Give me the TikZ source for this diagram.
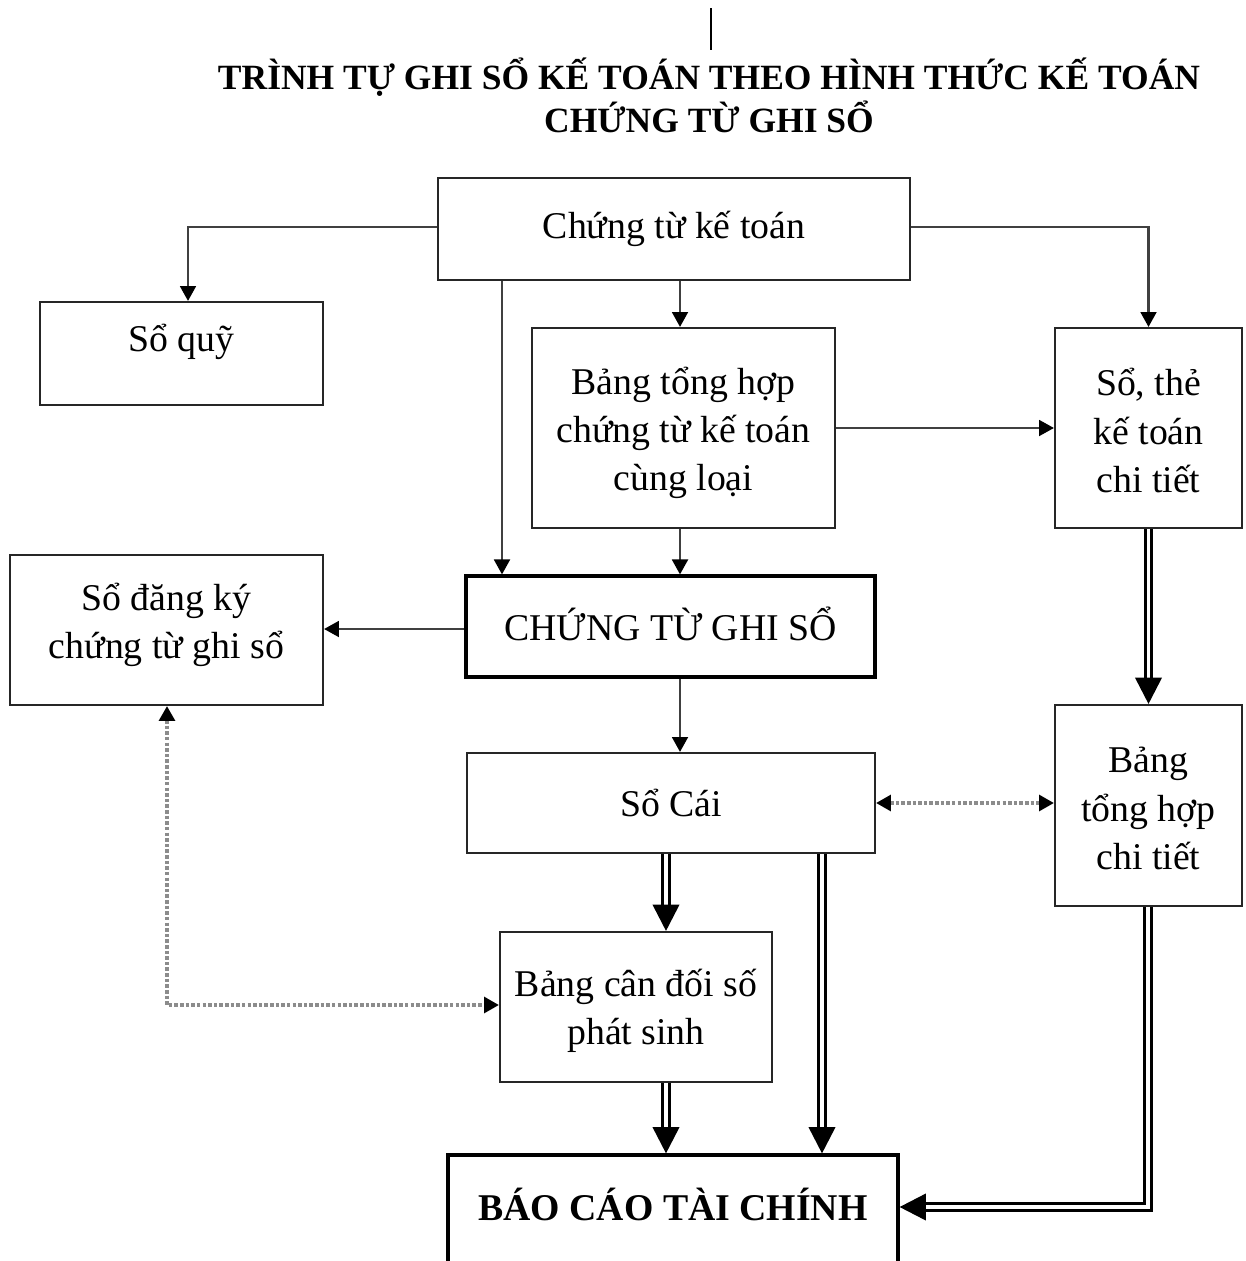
\documentclass[tikz,border=0pt]{standalone}
\usepackage{fontspec}
\setmainfont{Liberation Serif}
\usetikzlibrary{arrows.meta}

\newcommand\boxfont{\fontsize{21.5pt}{27.4pt}\selectfont}
\newcommand\headfont{\fontsize{20.2pt}{24.4pt}\selectfont\bfseries}

\tikzset{
  wh/.style 2 args={minimum width=#1*0.02cm, minimum height=#2*0.02cm},
  box/.style={draw=black!85, line width=1.2pt, inner sep=0pt, align=center, font=\boxfont},
  heavybox/.style={box, draw=black, line width=1.8pt},
  conn/.style={draw=black!75, line width=1.4pt, -{Triangle[length=8.5pt,width=9pt,color=black]}},
  dbl/.style={draw=black, line width=1.6pt, double=white, double distance=2.2pt,
              -{Triangle[length=15pt,width=15pt]}},
  dots/.style={draw=black!45, line width=2pt, dash pattern=on 2pt off 1.2pt,
               {Triangle[length=8.5pt,width=9pt,color=black]}-{Triangle[length=8.5pt,width=9pt,color=black]}},
}

\begin{document}
\begin{tikzpicture}[x=0.02cm, y=-0.02cm]
  \useasboundingbox (0,0) rectangle (1246,1261);
  \fill[white] (0,0) rectangle (1246,1261);
  \clip (0,0) rectangle (1246,1261);

  % heading
  \draw[line width=1.6pt] (711,8) -- (711,50);
  \node[font=\headfont, align=center] (title) at (709,95)
    {TRÌNH TỰ GHI SỔ KẾ TOÁN THEO HÌNH THỨC KẾ TOÁN\\CHỨNG TỪ GHI SỔ};

  % boxes
  \node[box, wh={472}{102}] (ctkt) at (674,229) {Chứng từ kế toán};
  \node[box, wh={283}{103}, label={[font=\boxfont, yshift=0.23cm]center:Sổ quỹ}] (soquy) at (181.5,353.5) {};
  \node[box, wh={303}{200}, label={[font=\boxfont, align=center, yshift=-0.1cm]center:Bảng tổng hợp\\chứng từ kế toán\\cùng loại}] (bth) at (683.5,428) {};
  \node[box, wh={187}{200}, label={[font=\boxfont, align=center, yshift=-0.05cm]center:Sổ, thẻ\\kế toán\\chi tiết}] (sothe) at (1148.5,428) {};
  \node[box, wh={313}{150}, label={[font=\boxfont, align=center, yshift=0.1cm]center:Sổ đăng ký\\chứng từ ghi sổ}] (sdk) at (166.5,630) {};
  \node[heavybox, wh={409}{101}, label={[font=\boxfont, yshift=0.05cm]center:CHỨNG TỪ GHI SỔ}] (ctgs) at (670.5,626.5) {};
  \node[box, wh={408}{100}] (socai) at (671,803) {Sổ Cái};
  \node[box, wh={187}{201}, label={[font=\boxfont, align=center, yshift=-0.06cm]center:Bảng\\tổng hợp\\chi tiết}] (bthct) at (1148.5,805.5) {};
  \node[box, wh={272}{150}, label={[font=\boxfont, align=center, yshift=-0.08cm]center:Bảng cân đối số\\phát sinh}] (cd) at (636,1007) {};
  \node[heavybox, wh={450}{120}, label={[font=\boxfont\bfseries, yshift=0.22cm]center:BÁO CÁO TÀI CHÍNH}] (bctc) at (673,1215) {};

  % single connectors
  \draw[conn] (ctkt.west |- 0,227) -| (188,0 |- soquy.north);
  \draw[conn] (ctkt.east |- 0,227) -| (sothe.north);
  \draw[conn] (680,0 |- ctkt.south) -- (680,0 |- bth.north);
  \draw[conn] (502,0 |- ctkt.south) -- (502,0 |- ctgs.north);
  \draw[conn] (680,0 |- bth.south) -- (680,0 |- ctgs.north);
  \draw[conn] (bth.east) -- (sothe.west);
  \draw[conn] (ctgs.west |- 0,629) -- (sdk.east |- 0,629);
  \draw[conn] (680,0 |- ctgs.south) -- (680,0 |- socai.north);

  % double connectors
  \draw[dbl] (sothe.south) -- (bthct.north);
  \draw[dbl] (666,0 |- socai.south) -- (666,0 |- cd.north);
  \draw[dbl] (822,0 |- socai.south) -- (822,0 |- bctc.north);
  \draw[dbl] (666,0 |- cd.south) -- (666,0 |- bctc.north);
  \draw[dbl] (1148,0 |- bthct.south) |- (bctc.east |- 0,1207);

  % dotted cross-checks
  \draw[dots] (socai.east) -- (socai.east -| bthct.west);
  \draw[dots] (167,0 |- sdk.south) |- (cd.west |- 0,1005);
\end{tikzpicture}
\end{document}
